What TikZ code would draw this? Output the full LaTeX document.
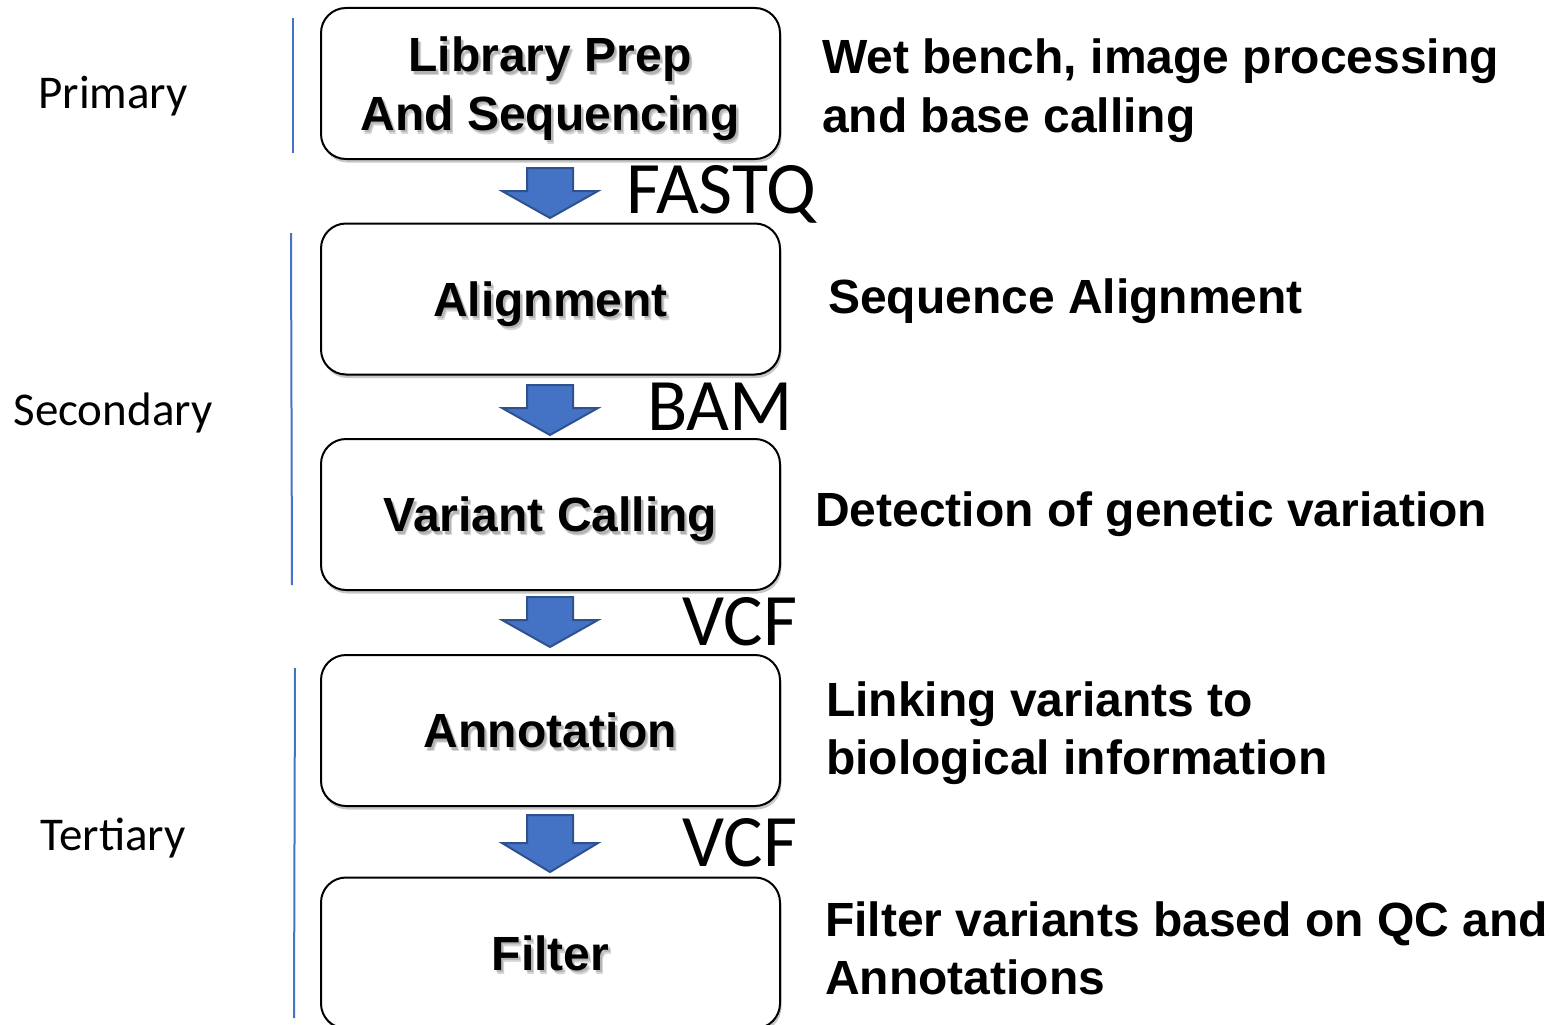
\documentclass[tikz,border=0pt]{standalone}
\usepackage{fontspec}
\setmainfont{Liberation Sans}
\newfontfamily\calfont{Carlito}
\usetikzlibrary{calc,shadows}
\definecolor{pblue}{HTML}{4472C4}
\definecolor{pdark}{HTML}{2F528F}
\tikzset{
  stagebox/.style={draw=black, line width=2pt, rounded corners=25pt, fill=white,
    minimum width=459pt, minimum height=151pt, inner sep=0pt,
    drop shadow={shadow xshift=1.5pt, shadow yshift=-3.5pt, opacity=0.22, fill=black}},
  btext/.style={font=\bfseries\fontsize{48}{58}\selectfont, inner sep=0pt, anchor=base},
  bshadow/.style={btext, text=black, opacity=0.16},
  desc/.style={font=\bfseries\fontsize{48}{58}\selectfont, inner sep=0pt, anchor=base west},
  fmt/.style={font=\calfont\fontsize{74}{80}\selectfont, inner sep=0pt, anchor=base west},
  tier/.style={font=\calfont\fontsize{47}{54}\selectfont, inner sep=0pt, anchor=base},
  tierline/.style={draw=pblue, line width=2pt},
  blockarrow/.style={fill=pblue, draw=pdark, line width=2pt, line join=miter}
}
\newcommand{\boxlabel}[3]{%
  \node[bshadow, xshift=3pt, yshift=-4pt] (#1s1) at (#2) {#3};
  \node[bshadow, xshift=2pt, yshift=-2.5pt] (#1s2) at (#2) {#3};
  \node[btext] (#1) at (#2) {#3};}
\newcommand{\blockarr}[1]{%
  \draw[blockarrow] ($(#1)+(-23,-25)$) -- ($(#1)+(23,-25)$) -- ($(#1)+(23,-2)$)
    -- ($(#1)+(48,-2)$) -- ($(#1)+(0,25)$) -- ($(#1)+(-48,-2)$) -- ($(#1)+(-23,-2)$) -- cycle;}
\begin{document}
\begin{tikzpicture}[x=1pt, y=-1pt]
\useasboundingbox (0,0) rectangle (1550,1025);
\clip (0,0) rectangle (1550,1025);
% boxes
\node[stagebox] (b1) at (550.5,83.5) {};
\node[stagebox] (b2) at (550.5,299) {};
\node[stagebox] (b3) at (550.5,514.5) {};
\node[stagebox] (b4) at (550.5,730.5) {};
\node[stagebox] (b5) at (550.5,953) {};
% box texts
\boxlabel{t1a}{550,72}{Library Prep}
\boxlabel{t1b}{550,130}{And Sequencing}
\boxlabel{t2}{$(b2.center)+(0,17)$}{Alignment}
\boxlabel{t3}{$(b3.center)+(0,17)$}{Variant Calling}
\boxlabel{t4}{$(b4.center)+(0,17)$}{Annotation}
\boxlabel{t5}{$(b5.center)+(0,17)$}{Filter}
% block arrows between boxes
\coordinate (a1) at (550,193);
\coordinate (a2) at (550,410);
\coordinate (a3) at (550,622);
\coordinate (a4) at (550,845);
\blockarr{a1}
\blockarr{a2}
\blockarr{a3}
\draw[blockarrow] ($(a4)+(-23,-30)$) -- ($(a4)+(23,-30)$) -- ($(a4)+(23,-2)$)
    -- ($(a4)+(48,-2)$) -- ($(a4)+(0,27)$) -- ($(a4)+(-48,-2)$) -- ($(a4)+(-23,-2)$) -- cycle;
% format labels
\node[fmt] (f1) at (626,213) {FASTQ};
\node[fmt] (f2) at (647,430) {BAM};
\node[fmt] (f3) at (682,645) {VCF};
\node[fmt] (f4) at (682,866) {VCF};
% descriptions
\node[desc] (d1a) at (822,74) {Wet bench, image processing};
\node[desc] (d1b) at (822,132) {and base calling};
\node[desc] (d2) at (828,313) {Sequence Alignment};
\node[desc] (d3) at (815,526) {Detection of genetic variation};
\node[desc] (d4a) at (826,716) {Linking variants to};
\node[desc] (d4b) at (826,774) {biological information};
\node[desc] (d5a) at (825,936) {Filter variants based on QC and};
\node[desc] (d5b) at (825,994) {Annotations};
% tiers
\coordinate (p1) at (293,18); \coordinate (p2) at (293,153);
\coordinate (s1) at (291,233); \coordinate (s2) at (292,585);
\coordinate (r1) at (295,668); \coordinate (r2) at (294,1018);
\draw[tierline] (p1) -- (p2);
\draw[tierline] (s1) -- (s2);
\draw[tierline] (r1) -- (r2);
\node[tier] (l1) at (113,108) {Primary};
\node[tier] (l2) at (113,425) {Secondary};
\node[tier] (l3) at (113,850) {Tertiary};
\end{tikzpicture}
\end{document}
